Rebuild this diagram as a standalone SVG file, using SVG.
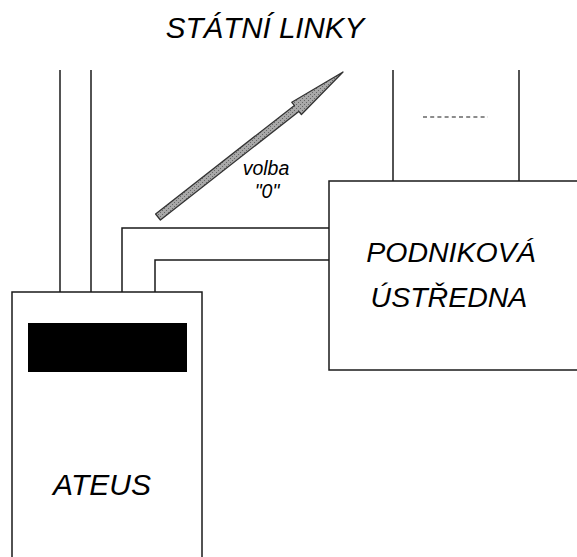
<svg xmlns="http://www.w3.org/2000/svg" width="577" height="557" viewBox="0 0 577 557">
<defs>
<pattern id="hatch" width="4" height="4" patternUnits="userSpaceOnUse">
<rect width="4" height="4" fill="#a8a8a8"/>
<rect x="0" y="0" width="1" height="1" fill="#666"/>
<rect x="2" y="2" width="1" height="1" fill="#666"/>
</pattern>
</defs>
<style>
.ln{stroke:#1a1a1a;stroke-width:1.5;fill:none}
.t{font-family:"Liberation Sans",Arial,sans-serif;font-style:italic;fill:#000}
</style>
<rect width="577" height="557" fill="#fff"/>
<text class="t" x="265" y="38" font-size="29.5" text-anchor="middle">STÁTNÍ LINKY</text>
<g id="connectors">
<line class="ln" x1="60" y1="70" x2="60" y2="292"/>
<line class="ln" x1="91" y1="70" x2="91" y2="292"/>
<polyline class="ln" points="122,292 122,228 329,228"/>
<polyline class="ln" points="155,292 155,260 329,260"/>
<line class="ln" x1="393" y1="70" x2="393" y2="181"/>
<line class="ln" x1="519" y1="70" x2="519" y2="181"/>
<line x1="423" y1="117" x2="488" y2="117" stroke="#1a1a1a" stroke-width="1.2" stroke-dasharray="4 3.2"/>
</g>
<g id="arrow">
<polygon points="155.6,214 294.4,105.4 291.8,102.3 343,72 301.4,114.5 298.8,111.4 160.4,220" fill="url(#hatch)" stroke="#333" stroke-width="1.3" stroke-linejoin="round"/>
<text class="t" x="266" y="175" font-size="19.5" text-anchor="middle">volba</text>
<text class="t" x="267" y="198" font-size="19.5" text-anchor="middle">"0"</text>
</g>
<g id="ustredna">
<rect class="ln" x="329" y="181" width="260" height="189"/>
<text class="t" x="451" y="262" font-size="28.5" text-anchor="middle">PODNIKOVÁ</text>
<text class="t" x="449" y="307" font-size="28.5" text-anchor="middle">ÚSTŘEDNA</text>
</g>
<g id="ateus">
<rect class="ln" x="12" y="292" width="190" height="280"/>
<rect x="28" y="323" width="159" height="49" fill="#000"/>
<text class="t" x="102" y="495" font-size="30" text-anchor="middle">ATEUS</text>
</g>
</svg>
